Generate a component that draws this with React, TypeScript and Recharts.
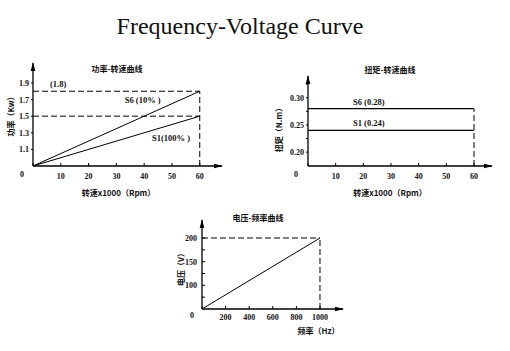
import { LineChart, Line, XAxis, YAxis, ReferenceLine } from "recharts";

// 功率-转速
const speed = [0, 60];
const powerS6 = [0.9, 1.8];
const powerS1 = [0.9, 1.5];
const speedTicks = [0, 10, 20, 30, 40, 50, 60];
const powerTicks = [1.1, 1.3, 1.5, 1.7, 1.9];

// 扭矩-转速
const torqueS6 = [0.28, 0.28];
const torqueS1 = [0.24, 0.24];
const torqueTicks = [0.2, 0.25, 0.3];
const torqueMinorTicks = [0.225, 0.275, 0.325];

// 电压-频率
const freq = [0, 1000];
const voltage = [50, 200];
const freqTicks = [0, 200, 400, 600, 800, 1000];
const voltageTicks = [100, 150, 200];
const voltageMinorTicks = [75, 125, 175];

const NUM_FONT = "'Liberation Serif', 'Times New Roman', serif";
const CJK_FONT = "'Noto Sans CJK SC', sans-serif";
const INK = "#111";

const last = (a: number[]) => a[a.length - 1];

const powerData = speed.map((s, i) => ({ speed: s, s6: powerS6[i], s1: powerS1[i] }));
const torqueData = speed.map((s, i) => ({ speed: s, s6: torqueS6[i], s1: torqueS1[i] }));
const voltageData = freq.map((f, i) => ({ freq: f, v: voltage[i] }));

const xTick = (zeroDx: number, dy: number, zeroDy: number) => (p: any) => {
  const v = p.payload.value;
  const isZero = v === 0;
  return (
    <text
      x={p.x + (isZero ? zeroDx : 0)}
      y={p.y + (isZero ? zeroDy : dy)}
      textAnchor="middle"
      fontFamily={NUM_FONT}
      fontWeight="bold"
      fontSize={8}
      fill={INK}
    >
      {v}
    </text>
  );
};

const yTick = (labels: number[], fmt: (v: number) => string) => (p: any) => {
  const v = p.payload.value;
  if (!labels.some((l) => Math.abs(l - v) < 1e-9)) return <g />;
  return (
    <text x={p.x} y={p.y + 3} textAnchor="end" fontFamily={NUM_FONT} fontWeight="bold" fontSize={8} fill={INK}>
      {fmt(v)}
    </text>
  );
};

// axis title plus the arrow head at the far end of the axis line
const axisTitle = (text: string, dx: number, dy: number, rotate = false) => (p: any) => {
  const vb = p.viewBox;
  const cx = rotate ? vb.x + dx : vb.x + vb.width / 2 + dx;
  const cy = rotate ? vb.y + vb.height / 2 + dy : vb.y + dy;
  const ax = vb.x + vb.width;
  const ay = vb.y;
  const arrow = rotate
    ? `M${ax},${ay - 1} L${ax - 2.3},${ay + 8} L${ax + 2.3},${ay + 8} Z`
    : `M${ax + 1},${ay} L${ax - 8},${ay - 2.3} L${ax - 8},${ay + 2.3} Z`;
  return (
    <g>
      <path d={arrow} fill="#000" />
      <text
        x={cx}
        y={cy}
        textAnchor="middle"
        dominantBaseline="central"
        fontFamily={CJK_FONT}
        fontSize={8}
        fontWeight="bold"
        fill={INK}
        transform={rotate ? `rotate(-90 ${cx} ${cy})` : undefined}
      >
        {text}
      </text>
    </g>
  );
};

const note = (text: string, dx: number, dy: number) => (p: any) => {
  const vb = p.viewBox;
  return (
    <text x={vb.x + dx} y={vb.y + dy} fontFamily={NUM_FONT} fontWeight="bold" fontSize={8.5} fill={INK}>
      {text}
    </text>
  );
};

const lineNote = (text: string, dx: number, dy: number) => (p: any) =>
  p.index === 0 ? (
    <text x={p.x + dx} y={p.y + dy} fontFamily={NUM_FONT} fontWeight="bold" fontSize={8.5} fill={INK}>
      {text}
    </text>
  ) : (
    <g />
  );

const chartTitle = (text: string, cx: number, cy: number) => (
  <div
    style={{
      position: "absolute",
      left: cx - 60,
      top: cy - 7,
      width: 120,
      textAlign: "center",
      fontFamily: CJK_FONT,
      fontSize: 8,
      fontWeight: "bold",
      lineHeight: "14px",
      color: INK,
    }}
  >
    {text}
  </div>
);

const axisProps = { stroke: "#000", strokeWidth: 1.3 };

export default function App() {
  const speedMax = 68;
  const speedMax2 = 66.5;
  const powerMin = 0.9;
  const powerMax = 2.14;
  const torqueMin = 0.1745;
  const torqueMax = 0.34;
  const freqMax = 1195;
  const voltMin = 50;
  const voltMax = 238;

  return (
    <div style={{ position: "absolute", left: 0, top: 0, width: 510, height: 351, background: "#fff" }}>
      <div
        style={{
          position: "absolute",
          left: 0,
          top: 11,
          width: 480,
          textAlign: "center",
          fontFamily: NUM_FONT,
          fontSize: 24,
          lineHeight: "30px",
          color: INK,
        }}
      >
        Frequency-Voltage Curve
      </div>

      {chartTitle("功率-转速曲线", 117, 69)}
      <div style={{ position: "absolute", left: 0, top: 50 }}>
        <LineChart width={240} height={160} data={powerData} margin={{ top: 13, right: 18, bottom: 0, left: 0 }}>
          <XAxis
            dataKey="speed"
            type="number"
            domain={[0, speedMax]}
            allowDataOverflow
            ticks={speedTicks}
            interval={0}
            height={44}
            axisLine={axisProps}
            tickLine={{ stroke: "#000" }}
            tickSize={-3}
            tickMargin={8}
            tick={xTick(-11, 8, 6)}
            label={axisTitle("转速x1000（Rpm）", -9, 26)}
          />
          <YAxis
            type="number"
            domain={[powerMin, powerMax]}
            allowDataOverflow
            ticks={powerTicks}
            interval={0}
            width={33}
            axisLine={axisProps}
            tickLine={{ stroke: "#000" }}
            tickSize={2}
            tickMargin={2}
            tick={yTick(powerTicks, (v) => v.toFixed(1))}
            label={axisTitle("功率（Kw）", 10, 0, true)}
          />
          <ReferenceLine
            segment={[{ x: 0, y: last(powerS6) }, { x: last(speed), y: last(powerS6) }]}
            stroke="#000"
            strokeDasharray="6 3"
            ifOverflow="visible"
            label={note(`(${last(powerS6)})`, 17, -4)}
          />
          <ReferenceLine
            segment={[{ x: 0, y: last(powerS1) }, { x: last(speed), y: last(powerS1) }]}
            stroke="#000"
            strokeDasharray="6 3"
            ifOverflow="visible"
            label={note("S1(100% )", 119, 25)}
          />
          <ReferenceLine
            segment={[{ x: last(speed), y: powerMin }, { x: last(speed), y: last(powerS6) }]}
            stroke="#000"
            strokeDasharray="6 3"
            ifOverflow="visible"
            label={note("S6 (10% )", -75, 12)}
          />
          <Line dataKey="s6" stroke="#000" strokeWidth={1} dot={false} isAnimationActive={false} />
          <Line dataKey="s1" stroke="#000" strokeWidth={1} dot={false} isAnimationActive={false} />
        </LineChart>
      </div>

      {chartTitle("扭矩-转速曲线", 390, 70)}
      <div style={{ position: "absolute", left: 270, top: 50 }}>
        <LineChart width={240} height={160} data={torqueData} margin={{ top: 26, right: 18, bottom: 0, left: 0 }}>
          <XAxis
            dataKey="speed"
            type="number"
            domain={[0, speedMax2]}
            allowDataOverflow
            ticks={speedTicks}
            interval={0}
            height={44}
            axisLine={axisProps}
            tickLine={{ stroke: "#000" }}
            tickSize={-3}
            tickMargin={8}
            tick={xTick(-12, 8, 6)}
            label={axisTitle("转速x1000（Rpm）", -10, 26)}
          />
          <YAxis
            type="number"
            domain={[torqueMin, torqueMax]}
            allowDataOverflow
            ticks={[...torqueTicks, ...torqueMinorTicks].sort((a, b) => a - b)}
            interval={0}
            width={38}
            axisLine={axisProps}
            tickLine={{ stroke: "#000" }}
            tickSize={2}
            tickMargin={2}
            tick={yTick(torqueTicks, (v) => v.toFixed(2))}
            label={axisTitle("扭矩（N.m）", 8, 7, true)}
          />
          <ReferenceLine
            segment={[{ x: last(speed), y: torqueMin }, { x: last(speed), y: last(torqueS6) }]}
            stroke="#000"
            strokeDasharray="6 3"
            ifOverflow="visible"
          />
          <Line
            dataKey="s6"
            stroke="#000"
            strokeWidth={1.2}
            dot={false}
            isAnimationActive={false}
            label={lineNote(`S6 (${last(torqueS6).toFixed(2)})`, 45, -4)}
          />
          <Line
            dataKey="s1"
            stroke="#000"
            strokeWidth={1.2}
            dot={false}
            isAnimationActive={false}
            label={lineNote(`S1 (${last(torqueS1).toFixed(2)})`, 45, -4)}
          />
        </LineChart>
      </div>

      {chartTitle("电压-频率曲线", 258, 218)}
      <div style={{ position: "absolute", left: 150, top: 205 }}>
        <LineChart width={210} height={146} data={voltageData} margin={{ top: 15, right: 17, bottom: 0, left: 0 }}>
          <XAxis
            dataKey="freq"
            type="number"
            domain={[0, freqMax]}
            allowDataOverflow
            ticks={freqTicks}
            interval={0}
            height={42}
            axisLine={axisProps}
            tickLine={{ stroke: "#000" }}
            tickSize={-3}
            tickMargin={8}
            tick={xTick(-10, 6, 4)}
            label={axisTitle("频率（Hz）", 46, 21)}
          />
          <YAxis
            type="number"
            domain={[voltMin, voltMax]}
            allowDataOverflow
            ticks={[...voltageTicks, ...voltageMinorTicks].sort((a, b) => a - b)}
            interval={0}
            width={52}
            axisLine={axisProps}
            tickLine={{ stroke: "#000" }}
            tickSize={-3}
            tickMargin={8}
            tick={yTick(voltageTicks, (v) => String(v))}
            label={axisTitle("电压（V）", 30, 3, true)}
          />
          <ReferenceLine
            segment={[{ x: 0, y: last(voltage) }, { x: last(freq), y: last(voltage) }]}
            stroke="#000"
            strokeDasharray="6 3"
            ifOverflow="visible"
          />
          <ReferenceLine
            segment={[{ x: last(freq), y: voltMin }, { x: last(freq), y: last(voltage) }]}
            stroke="#000"
            strokeDasharray="6 3"
            ifOverflow="visible"
          />
          <Line dataKey="v" stroke="#000" strokeWidth={1} dot={false} isAnimationActive={false} />
        </LineChart>
      </div>
    </div>
  );
}
